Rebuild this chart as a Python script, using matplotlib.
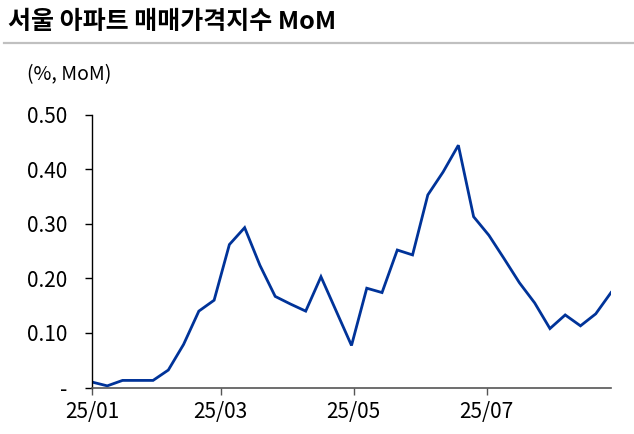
import matplotlib
matplotlib.use('Agg')
from matplotlib import pyplot as plt
import matplotlib.dates as mdates
import numpy as np
import pandas as pd

plt.rcParams['font.family'] = ['Noto Sans CJK KR', 'DejaVu Sans']

title = '서울 아파트 매매가격지수 MoM'
unit = '(%, MoM)'

# weekly MoM change, Jan 2025 ~
mom = [0.010, 0.003, 0.013, 0.013, 0.013, 0.032, 0.079, 0.140, 0.160, 0.262,
       0.293, 0.224, 0.167, 0.153, 0.140, 0.203, 0.140, 0.077, 0.182, 0.174,
       0.252, 0.243, 0.353, 0.395, 0.444, 0.313, 0.279, 0.236, 0.192, 0.155,
       0.108, 0.133, 0.113, 0.135, 0.174]
dates = pd.date_range('2025-01-01', periods=len(mom), freq='7D')

xticks = pd.to_datetime(['2025-01-01', '2025-03-01', '2025-05-01', '2025-07-01'])
yticks = [0, 0.1, 0.2, 0.3, 0.4, 0.5]
ylabels = ['-', '0.10', '0.20', '0.30', '0.40', '0.50']

fig = plt.figure(figsize=(6.34, 4.34), dpi=100)
ax = fig.add_axes([92 / 634, 46.5 / 434, (611 - 92) / 634, (387.5 - 114.7) / 434])

ax.plot(dates, mom, color='#003399', lw=2.0, solid_joinstyle='miter')

ax.set_xlim(dates[0], dates[-1])
ax.set_ylim(0, 0.5)
ax.set_xticks(xticks)
ax.xaxis.set_major_formatter(mdates.DateFormatter('%y/%m'))
ax.set_yticks(yticks)
ax.set_yticklabels(ylabels)

for s in ['top', 'right']:
    ax.spines[s].set_visible(False)
ax.spines['left'].set_color('#000000')
ax.spines['bottom'].set_color('#555555')
ax.spines['left'].set_linewidth(1.0)
ax.spines['bottom'].set_linewidth(1.2)
ax.tick_params(axis='y', length=5, width=1, color='#000000', pad=13, labelsize=15)
ax.tick_params(axis='x', length=5, width=1, color='#555555', pad=5, labelsize=15)

fig.text(8 / 634, 1 - 22 / 434, title, fontsize=18, fontweight='bold', va='center', ha='left')
fig.add_artist(plt.Line2D([4 / 634, 1], [1 - 43 / 434, 1 - 43 / 434], color='#c0c0c0', lw=1.6))
fig.text(27 / 634, 1 - 75 / 434, unit, fontsize=14, va='center', ha='left')

fig.savefig('out.png', dpi=100)
